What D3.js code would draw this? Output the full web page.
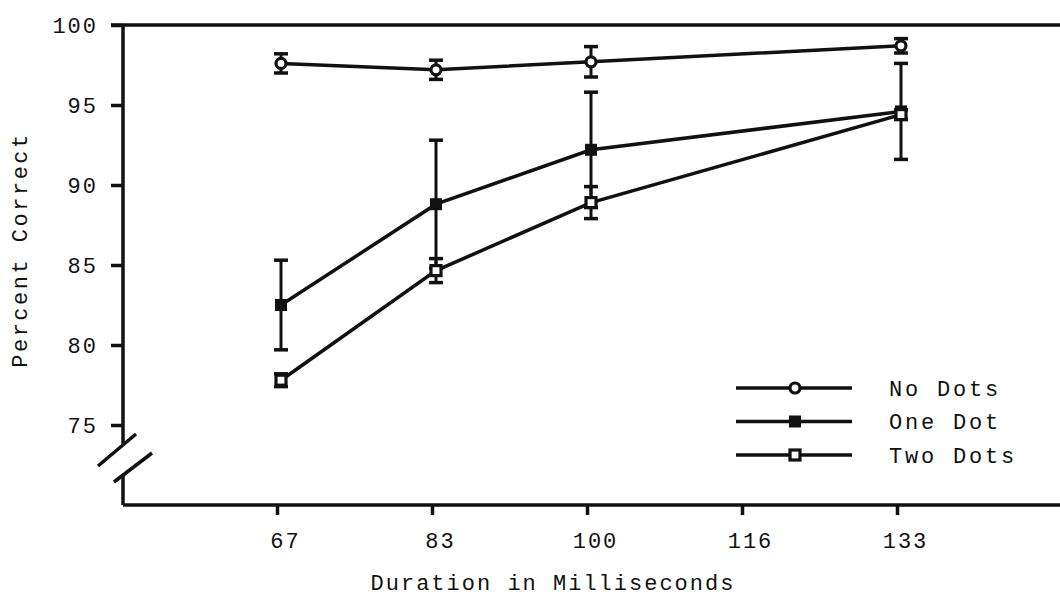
<!DOCTYPE html>
<html>
<head>
<meta charset="utf-8">
<script src="https://cdn.jsdelivr.net/npm/d3@7"></script>
<style>
  body { margin: 0; background: #fff; }
  text { font-family: "Liberation Mono", "DejaVu Sans Mono", monospace; font-size: 22px; fill: #111; letter-spacing: 2px; }
</style>
</head>
<body>
<svg width="1060" height="596"></svg>
<script>
// durations shown on the x axis (116 has no data)
var tickLabels = [67, 83, 100, 116, 133];
var durations = [67, 83, 100, 133];
var yTicks = [75, 80, 85, 90, 95, 100];

// percent correct, with error bar half-lengths
var noDots = [97.6, 97.2, 97.7, 98.7];
var noDotsErr = [0.6, 0.6, 0.95, 0.45];
var oneDot = [82.5, 88.8, 92.2, 94.6];
var oneDotErr = [2.8, 4.0, 3.6, 3.0];
var twoDots = [77.8, 84.65, 88.9, 94.4];
var twoDotsErr = [0.4, 0.75, 1.0, 0.3];

var seriesNames = ["No Dots", "One Dot", "Two Dots"];

var svg = d3.select("svg"),
    width = +svg.attr("width"),
    height = +svg.attr("height");

var ink = "#111";
var sw = 3.5;

// scales
var x = d3.scalePoint().domain(tickLabels).range([277, 897]);
var y = d3.scaleLinear().domain([70, 100]).range([505, 25]);
var shift = 4; // plotted points sit a touch right of the ticks

var series = [
  { name: seriesNames[0], vals: noDots, err: noDotsErr, marker: "circle" },
  { name: seriesNames[1], vals: oneDot, err: oneDotErr, marker: "filled" },
  { name: seriesNames[2], vals: twoDots, err: twoDotsErr, marker: "open" }
];

// frame: top line, bottom axis, left axis with break
var g = svg.append("g");
g.append("line").attr("x1", 111).attr("x2", width).attr("y1", y(100)).attr("y2", y(100))
  .attr("stroke", ink).attr("stroke-width", sw);
g.append("line").attr("x1", 123).attr("x2", width).attr("y1", y(70)).attr("y2", y(70))
  .attr("stroke", ink).attr("stroke-width", sw);
g.append("line").attr("x1", 123).attr("x2", 123).attr("y1", y(100)).attr("y2", y(73.75))
  .attr("stroke", ink).attr("stroke-width", sw);
g.append("line").attr("x1", 123).attr("x2", 123).attr("y1", y(71.9)).attr("y2", y(70))
  .attr("stroke", ink).attr("stroke-width", sw);
// break marks
g.append("line").attr("x1", 98).attr("y1", 466).attr("x2", 136).attr("y2", 434)
  .attr("stroke", ink).attr("stroke-width", sw);
g.append("line").attr("x1", 114).attr("y1", 482).attr("x2", 152).attr("y2", 453)
  .attr("stroke", ink).attr("stroke-width", sw);

// y axis
var yAxis = d3.axisLeft(y).tickValues(yTicks).tickSize(12).tickPadding(13).tickFormat(d3.format("d"));
var ya = svg.append("g").attr("transform", "translate(123,0)").call(yAxis);
ya.select(".domain").remove();
ya.selectAll(".tick line").attr("stroke", ink).attr("stroke-width", sw);

// x axis
var xAxis = d3.axisBottom(x).tickSize(10).tickPadding(17);
var xa = svg.append("g").attr("transform", "translate(0," + y(70) + ")").call(xAxis);
xa.select(".domain").remove();
xa.selectAll(".tick line").attr("stroke", ink).attr("stroke-width", sw);
xa.selectAll(".tick text").attr("dx", 8);
svg.selectAll(".tick text").attr("fill", ink);
svg.selectAll("g[font-size]").attr("font-size", null).attr("font-family", null);

// axis titles
svg.append("text").attr("x", 553).attr("y", 590).attr("text-anchor", "middle")
  .text("Duration in Milliseconds");
svg.append("text").attr("transform", "translate(27,250) rotate(-90)").attr("text-anchor", "middle")
  .style("letter-spacing", "2.5px")
  .text("Percent Correct");

// lines
var line = d3.line()
  .x(function(d, i) { return x(durations[i]) + shift; })
  .y(function(d) { return y(d); });

series.forEach(function(s) {
  svg.append("path").datum(s.vals).attr("d", line)
    .attr("fill", "none").attr("stroke", ink).attr("stroke-width", sw);
});

// error bars
series.forEach(function(s) {
  var eb = svg.append("g").selectAll("g").data(s.vals).enter().append("g");
  eb.append("line")
    .attr("x1", function(d, i) { return x(durations[i]) + shift; })
    .attr("x2", function(d, i) { return x(durations[i]) + shift; })
    .attr("y1", function(d, i) { return y(d + s.err[i]); })
    .attr("y2", function(d, i) { return y(d - s.err[i]); })
    .attr("stroke", ink).attr("stroke-width", 3);
  [1, -1].forEach(function(sign) {
    eb.append("line")
      .attr("x1", function(d, i) { return x(durations[i]) + shift - 7; })
      .attr("x2", function(d, i) { return x(durations[i]) + shift + 7; })
      .attr("y1", function(d, i) { return y(d + sign * s.err[i]); })
      .attr("y2", function(d, i) { return y(d + sign * s.err[i]); })
      .attr("stroke", ink).attr("stroke-width", 3.5);
  });
});

function drawMarker(sel, type, cx, cy) {
  if (type === "circle") {
    sel.append("circle").attr("cx", cx).attr("cy", cy).attr("r", 5)
      .attr("fill", "#fff").attr("stroke", ink).attr("stroke-width", 3.2);
  } else if (type === "filled") {
    sel.append("rect").attr("x", cx - 6).attr("y", cy - 6).attr("width", 12).attr("height", 12)
      .attr("fill", ink);
  } else {
    sel.append("rect").attr("x", cx - 5).attr("y", cy - 5).attr("width", 10).attr("height", 10)
      .attr("fill", "#fff").attr("stroke", ink).attr("stroke-width", 3.2);
  }
}

// markers
var mk = svg.append("g");
series.forEach(function(s) {
  s.vals.forEach(function(v, i) {
    drawMarker(mk, s.marker, x(durations[i]) + shift, y(v));
  });
});

// legend
var legendY = d3.scalePoint().domain(seriesNames).range([388, 455]);
var leg = svg.append("g");
series.forEach(function(s) {
  var ly = legendY(s.name);
  leg.append("line").attr("x1", 736).attr("x2", 852).attr("y1", ly).attr("y2", ly)
    .attr("stroke", ink).attr("stroke-width", sw);
  drawMarker(leg, s.marker, 795, ly);
  leg.append("text").attr("x", 889).attr("y", ly).attr("dy", "0.35em")
    .style("letter-spacing", "2.8px").text(s.name);
});
</script>
</body>
</html>
